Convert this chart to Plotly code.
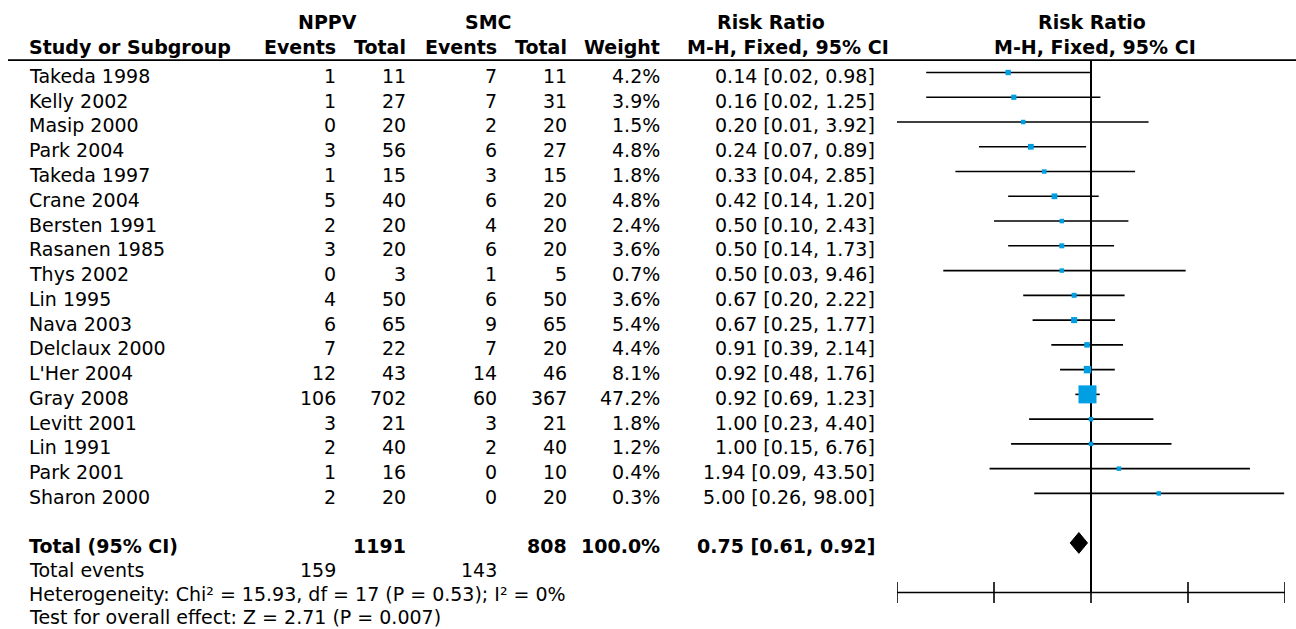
import plotly.graph_objects as go

studies = ["Takeda 1998", "Kelly 2002", "Masip 2000", "Park 2004", "Takeda 1997", "Crane 2004",
           "Bersten 1991", "Rasanen 1985", "Thys 2002", "Lin 1995", "Nava 2003", "Delclaux 2000",
           "L'Her 2004", "Gray 2008", "Levitt 2001", "Lin 1991", "Park 2001", "Sharon 2000"]
nppv_events = [1, 1, 0, 3, 1, 5, 2, 3, 0, 4, 6, 7, 12, 106, 3, 2, 1, 2]
nppv_total = [11, 27, 20, 56, 15, 40, 20, 20, 3, 50, 65, 22, 43, 702, 21, 40, 16, 20]
smc_events = [7, 7, 2, 6, 3, 6, 4, 6, 1, 6, 9, 7, 14, 60, 3, 2, 0, 0]
smc_total = [11, 31, 20, 27, 15, 20, 20, 20, 5, 50, 65, 20, 46, 367, 21, 40, 10, 20]
weight = [4.2, 3.9, 1.5, 4.8, 1.8, 4.8, 2.4, 3.6, 0.7, 3.6, 5.4, 4.4, 8.1, 47.2, 1.8, 1.2, 0.4, 0.3]
rr = [0.14, 0.16, 0.20, 0.24, 0.33, 0.42, 0.50, 0.50, 0.50, 0.67, 0.67, 0.91, 0.92, 0.92, 1.00, 1.00, 1.94, 5.00]
ci_lo = [0.02, 0.02, 0.01, 0.07, 0.04, 0.14, 0.10, 0.14, 0.03, 0.20, 0.25, 0.39, 0.48, 0.69, 0.23, 0.15, 0.09, 0.26]
ci_hi = [0.98, 1.25, 3.92, 0.89, 2.85, 1.20, 2.43, 1.73, 9.46, 2.22, 1.77, 2.14, 1.76, 1.23, 4.40, 6.76, 43.50, 98.00]

total_nppv = 1191
total_smc = 808
total_weight = 100.0
total_rr = 0.75
total_lo = 0.61
total_hi = 0.92
events_nppv = 159
events_smc = 143
heterogeneity = "Heterogeneity: Chi² = 15.93, df = 17 (P = 0.53); I² = 0%"
overall = "Test for overall effect: Z = 2.71 (P = 0.007)"
axis_ticks = [0.01, 0.1, 1, 10, 100]

W, H = 1296, 629
FONT = "DejaVu Sans, Liberation Sans, Arial, sans-serif"
FS = 19
BLUE = "#009FE3"

n = len(studies)
r_total = n + 1
r_axis = n + 3
r_events = n + 1.95
r_het = n + 2.93
r_test = n + 3.85
row_px = 24.76
row0_px = 72.5
y_top = -row0_px / row_px
y_bot = (H - row0_px) / row_px

fig = go.Figure()

# CI lines
xs, ys = [], []
for i in range(n):
    xs += [ci_lo[i], ci_hi[i], None]
    ys += [i, i, None]
fig.add_trace(go.Scatter(x=xs, y=ys, mode="lines", line=dict(color="black", width=1.6),
                         hoverinfo="skip", showlegend=False))

# null line
fig.add_trace(go.Scatter(x=[1, 1], y=[-0.5, r_axis], mode="lines",
                         line=dict(color="black", width=2), hoverinfo="skip", showlegend=False))

# squares (area proportional to weight)
sizes = [max(4.5, 18 * (w / max(weight)) ** 0.5) for w in weight]
fig.add_trace(go.Scatter(x=rr, y=list(range(n)), mode="markers",
                         marker=dict(symbol="square", size=sizes, color=BLUE, opacity=1,
                                     line=dict(width=0)),
                         hoverinfo="skip", showlegend=False))

# diamond
fig.add_trace(go.Scatter(x=[total_lo, total_rr, total_hi, total_rr, total_lo],
                         y=[r_total, r_total - 0.42, r_total, r_total + 0.42, r_total],
                         mode="lines", fill="toself", fillcolor="black",
                         line=dict(color="black", width=1), hoverinfo="skip", showlegend=False))

# bottom axis with crossing ticks
fig.add_trace(go.Scatter(x=axis_ticks, y=[r_axis] * len(axis_ticks), mode="lines+markers",
                         line=dict(color="black", width=1.6),
                         marker=dict(symbol="line-ns", size=15, line=dict(color="black", width=1.6)),
                         hoverinfo="skip", showlegend=False))

ann = []


def txt(x_px, r, s, anchor="right", bold=False, dy=0.14):
    if bold:
        s = "<b>" + s + "</b>"
    ann.append(dict(x=x_px / W, y=r + dy, xref="paper", yref="y", text=s, showarrow=False,
                    xanchor=anchor, yanchor="middle", borderpad=0,
                    font=dict(family=FONT, size=FS, color="black")))


# headers
HD = -0.02
txt(327, -2, "NPPV", "center", True, HD)
txt(488, -2, "SMC", "center", True, HD)
txt(771, -2, "Risk Ratio", "center", True, HD)
txt(1092, -2, "Risk Ratio", "center", True, HD)
txt(28, -1, "Study or Subgroup", "left", True, HD)
txt(337, -1, "Events", "right", True, HD)
txt(407, -1, "Total", "right", True, HD)
txt(498, -1, "Events", "right", True, HD)
txt(568, -1, "Total", "right", True, HD)
txt(661, -1, "Weight", "right", True, HD)
txt(788, -1, "M-H, Fixed, 95% CI", "center", True, HD)
txt(1095, -1, "M-H, Fixed, 95% CI", "center", True, HD)

for i in range(n):
    txt(28, i, studies[i], "left")
    txt(337, i, str(nppv_events[i]))
    txt(407, i, str(nppv_total[i]))
    txt(498, i, str(smc_events[i]))
    txt(568, i, str(smc_total[i]))
    txt(661, i, f"{weight[i]:.1f}%")
    txt(876, i, f"{rr[i]:.2f} [{ci_lo[i]:.2f}, {ci_hi[i]:.2f}]")

txt(28, r_total, "Total (95% CI)", "left", True)
txt(407, r_total, str(total_nppv), "right", True)
txt(568, r_total, str(total_smc), "right", True)
txt(661, r_total, f"{total_weight:.1f}%", "right", True)
txt(876, r_total, f"{total_rr:.2f} [{total_lo:.2f}, {total_hi:.2f}]", "right", True)
txt(28, r_events, "Total events", "left")
txt(337, r_events, str(events_nppv))
txt(498, r_events, str(events_smc))
txt(28, r_het, heterogeneity, "left")
txt(28, r_test, overall, "left")

fig.update_layout(
    width=W, height=H, margin=dict(l=0, r=0, t=0, b=0),
    plot_bgcolor="white", paper_bgcolor="white",
    xaxis=dict(type="log", range=[-2, 2], domain=[897 / W, 1285 / W], visible=False),
    yaxis=dict(range=[y_bot, y_top], domain=[0, 1], visible=False),
    annotations=ann,
    shapes=[dict(type="line", xref="paper", yref="y", x0=8 / W, x1=1, y0=-0.5, y1=-0.5,
                 line=dict(color="black", width=1.8))],
)

fig.write_html("out.html", config={"displayModeBar": False},
               post_script="document.body.style.margin='0';")
